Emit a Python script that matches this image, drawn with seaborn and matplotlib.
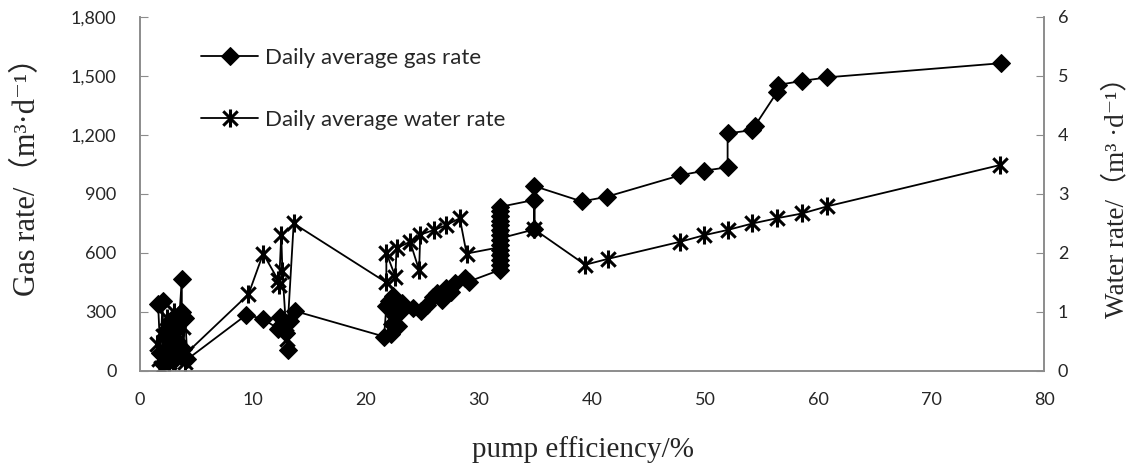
import matplotlib
matplotlib.use("Agg")
import matplotlib.pyplot as plt
import seaborn as sns
import pandas as pd
from matplotlib.path import Path
from matplotlib.ticker import FuncFormatter, MultipleLocator

# ---- data ----
gas_x = [1.6, 1.8, 2.0, 2.1, 2.2, 2.3, 2.5, 2.6, 2.7, 2.9, 3.0, 3.1, 3.3, 3.4, 3.5, 3.7, 3.7,
         3.8, 4.0, 4.2,
         9.4, 10.9, 12.2, 12.4, 12.6, 12.9, 13.1, 13.3, 13.7,
         21.6, 21.8, 22.0, 22.2, 22.3, 22.4, 22.5, 22.6, 22.8, 23.0, 23.2, 24.2, 24.9, 25.4,
         25.9, 26.3, 26.7, 27.1, 27.5, 27.9, 28.8, 29.1,
         31.9, 31.9, 31.9, 31.9, 31.9, 31.9, 31.9, 31.9, 31.9, 31.9, 31.9, 31.9, 31.9, 31.9,
         34.9, 34.9, 34.9, 39.1, 41.3, 47.8, 49.9, 52.0, 52.0, 54.2, 54.4,
         56.4, 56.5, 58.6, 60.8, 76.2]
gas_rate = [340, 90, 355, 30, 180, 210, 120, 60, 260, 50, 200, 240, 150, 100, 290, 470, 300,
            110, 270, 60,
            285, 265, 215, 275, 240, 195, 105, 255, 305,
            175, 330, 355, 190, 240, 380, 300, 280, 230, 300, 345, 320, 305, 335,
            375, 395, 360, 420, 400, 445, 475, 455,
            515, 540, 565, 590, 615, 640, 665, 690, 715, 740, 765, 790, 815, 835,
            870, 720, 940, 862, 886, 995, 1018, 1036, 1208, 1225, 1245,
            1420, 1455, 1475, 1493, 1565]

water_x = [1.5, 1.7, 1.9, 2.0, 2.2, 2.4, 2.6, 2.8, 3.0, 3.2, 3.4, 3.6, 3.8, 4.0, 4.1,
           9.6, 10.9, 12.2, 12.3, 12.5, 12.6, 12.9, 13.0, 13.6,
           21.8, 21.8, 22.6, 22.7, 23.9, 24.7, 24.8, 26.0, 27.1, 28.3, 28.9,
           31.9, 31.9, 34.9, 39.4, 41.4, 47.8, 49.9, 52.0, 54.2, 56.4, 58.6, 60.8, 76.1]
water_rate = [0.45, 0.2, 0.05, 0.6, 0.3, 0.9, 0.15, 0.7, 1.0, 0.4, 0.85, 0.25, 0.75, 0.15, 0.3,
              1.3, 1.99, 1.55, 1.45, 2.3, 1.7, 0.8, 0.55, 2.5,
              1.5, 2.0, 1.6, 2.08, 2.19, 1.71, 2.31, 2.39, 2.47, 2.59, 1.99,
              2.1, 2.25, 2.4, 1.8, 1.9, 2.19, 2.3, 2.39, 2.5, 2.59, 2.67, 2.79, 3.49]

gas_label = "Daily average gas rate"
water_label = "Daily average water rate"
x_label = "pump efficiency/%"
y_label = "Gas rate/（m³·d⁻¹）"
y2_label = "Water rate/（m³ ·d⁻¹）"

gas_df = pd.DataFrame({"x": gas_x, "y": gas_rate})
water_df = pd.DataFrame({"x": water_x, "y": water_rate})

sns.set_style("white")
plt.rcParams["font.family"] = ["Lato", "DejaVu Sans"]

# asterisk marker: vertical bar plus an X
star = Path([(0, -1), (0, 1), (-0.8, -0.8), (0.8, 0.8), (-0.8, 0.8), (0.8, -0.8)],
            [Path.MOVETO, Path.LINETO, Path.MOVETO, Path.LINETO, Path.MOVETO, Path.LINETO])

fig = plt.figure(figsize=(11.3, 4.67), dpi=100)
ax = fig.add_axes([0.1239, 0.2056, 0.8, 0.758])
ax2 = ax.twinx()

sns.lineplot(data=gas_df, x="x", y="y", ax=ax, sort=False, estimator=None,
             color="black", linewidth=1.3, marker="D", markersize=9.5,
             markeredgecolor="black", label=gas_label, legend=False)
sns.lineplot(data=water_df, x="x", y="y", ax=ax2, sort=False, estimator=None,
             color="black", linewidth=1.3, marker=star, markersize=13,
             markeredgewidth=2.2, markerfacecolor="none", markeredgecolor="black",
             label=water_label, legend=False)

ax.set_xlim(0, 80)
ax.set_ylim(0, 1800)
ax2.set_ylim(0, 6)
ax.xaxis.set_major_locator(MultipleLocator(10))
ax.yaxis.set_major_locator(MultipleLocator(300))
ax2.yaxis.set_major_locator(MultipleLocator(1))
ax.yaxis.set_major_formatter(FuncFormatter(lambda v, p: f"{int(v):,}"))

spine_c = "#8c8c8c"
for a in (ax, ax2):
    a.spines["top"].set_visible(False)
    for s in ("left", "right", "bottom"):
        a.spines[s].set_color(spine_c)
        a.spines[s].set_linewidth(1.2)
ax.tick_params(axis="x", direction="in", length=6, color=spine_c, labelsize=13, pad=15)
ax.tick_params(axis="y", direction="in", length=6, color=spine_c, labelsize=13, pad=17)
ax2.tick_params(axis="y", direction="in", length=6, color=spine_c, labelsize=13, pad=10)

serif = ["Liberation Serif", "DejaVu Serif", "Noto Sans CJK SC"]
ax.set_xlabel(x_label, fontsize=21, family=serif)
ax.xaxis.set_label_coords(0.49, -0.185)
ax.set_ylabel(y_label, fontsize=22, family=serif)
ax.yaxis.set_label_coords(-0.108, 0.57)
ax2.set_ylabel(y2_label, fontsize=19.5, family=serif)
ax2.yaxis.set_label_coords(1.066, 0.51)

h1, l1 = ax.get_legend_handles_labels()
h2, l2 = ax2.get_legend_handles_labels()
ax.legend(h1 + h2, l1 + l2, loc="upper left", bbox_to_anchor=(0.045, 0.97),
          frameon=False, fontsize=16, labelspacing=1.9, handlelength=2.6,
          handletextpad=0.3)

fig.savefig("out.png", dpi=100)
